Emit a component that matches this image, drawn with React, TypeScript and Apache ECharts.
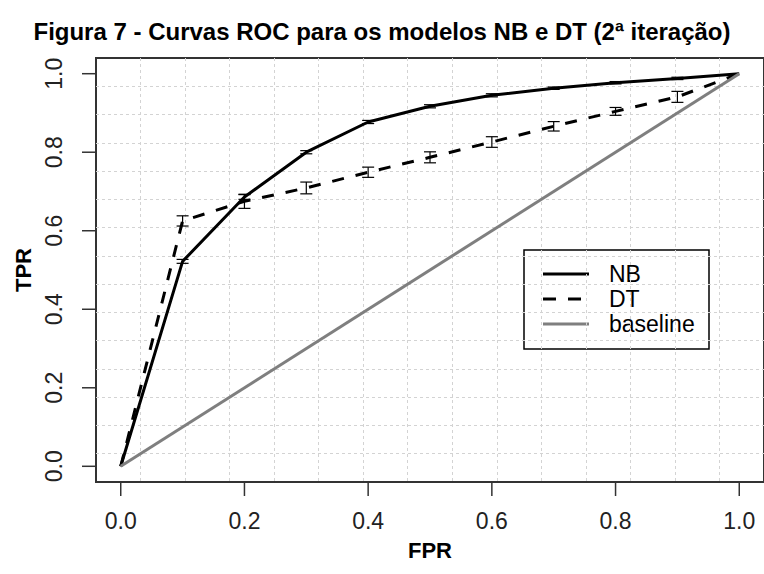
import React, { useEffect, useRef } from "react";
import * as echarts from "echarts";

const fpr = [0, 0.1, 0.2, 0.3, 0.4, 0.5, 0.6, 0.7, 0.8, 0.9, 1.0];
const nbTpr = [0, 0.522, 0.686, 0.8, 0.877, 0.917, 0.945, 0.963, 0.977, 0.988, 1.0];
const nbErr = [0, 0.005, 0.006, 0.004, 0.004, 0.004, 0.004, 0.003, 0.003, 0.003, 0];
const dtTpr = [0, 0.625, 0.675, 0.709, 0.749, 0.787, 0.826, 0.866, 0.904, 0.941, 1.0];
const dtErr = [0, 0.013, 0.018, 0.015, 0.013, 0.014, 0.0135, 0.012, 0.01, 0.014, 0];
const baseline = [[0, 0], [1, 1]];
const tickValues = [0, 0.2, 0.4, 0.6, 0.8, 1.0];
const legendNames = ["NB", "DT", "baseline"];
const titleText = "Figura 7 - Curvas ROC para os modelos NB e DT (2ª iteração)";
const AXIS_MIN = -0.04;
const AXIS_MAX = 1.04;

const FONT = "'Liberation Sans', Arial, sans-serif";

function errorSeries(name: string, ys: number[], errs: number[]) {
  const data = fpr
    .map((x, i) => [x, ys[i] - errs[i], ys[i] + errs[i]])
    .filter((d, i) => errs[i] > 0);
  return {
    name,
    type: "custom",
    xAxisIndex: 0,
    yAxisIndex: 0,
    encode: { x: 0, y: [1, 2] },
    data,
    z: 3,
    silent: true,
    renderItem: (params: any, api: any) => {
      const x = api.value(0);
      const lo = api.coord([x, api.value(1)]);
      const hi = api.coord([x, api.value(2)]);
      const hw = 6;
      const style = { stroke: "#000", lineWidth: 1.2, fill: "none" };
      return {
        type: "group",
        children: [
          { type: "line", shape: { x1: lo[0], y1: lo[1], x2: hi[0], y2: hi[1] }, style },
          { type: "line", shape: { x1: lo[0] - hw, y1: lo[1], x2: lo[0] + hw, y2: lo[1] }, style },
          { type: "line", shape: { x1: hi[0] - hw, y1: hi[1], x2: hi[0] + hw, y2: hi[1] }, style },
        ],
      };
    },
  };
}

function tickSeries() {
  // each row: [x, y, orientation] — 0 = x-axis tick, 1 = y-axis tick
  const data = [
    ...tickValues.map((v) => [v, AXIS_MIN, 0]),
    ...tickValues.map((v) => [AXIS_MIN, v, 1]),
  ];
  return {
    name: "axis ticks",
    type: "custom",
    xAxisIndex: 0,
    yAxisIndex: 0,
    encode: { x: 0, y: 1 },
    data,
    clip: false,
    silent: true,
    z: 6,
    renderItem: (params: any, api: any) => {
      const p = api.coord([api.value(0), api.value(1)]);
      const horiz = api.value(2) === 1;
      const len = 14;
      return {
        type: "line",
        shape: horiz
          ? { x1: p[0] - len, y1: p[1], x2: p[0], y2: p[1] }
          : { x1: p[0], y1: p[1], x2: p[0], y2: p[1] + len },
        style: { stroke: "#333", lineWidth: 1.5 },
      };
    },
  };
}

export default function App() {
  const ref = useRef<HTMLDivElement>(null);
  useEffect(() => {
    if (!ref.current) return;
    const chart = echarts.init(ref.current, undefined, { renderer: "svg" });
    const mainAxisCommon = {
      type: "value",
      min: AXIS_MIN,
      max: AXIS_MAX,
      axisLine: { show: false, onZero: false },
      axisTick: { show: false },
      splitLine: { show: false },
      nameTextStyle: { fontFamily: FONT, fontWeight: "bold", fontSize: 22, color: "#000" },
    };
    const gridAxisCommon = {
      type: "value",
      min: 0,
      max: 15,
      interval: 1,
      axisLine: { show: false, onZero: false },
      axisTick: { show: false },
      axisLabel: { show: false },
      splitLine: {
        show: true,
        showMinLine: false,
        showMaxLine: false,
        lineStyle: { color: "#d3d3d3", width: 1, type: [3, 3] },
      },
    };
    const legendStyles = [
      { stroke: "#000", lineWidth: 3 },
      { stroke: "#000", lineWidth: 3, lineDash: [13, 12] },
      { stroke: "#7f7f7f", lineWidth: 3 },
    ];
    const legendChildren: any[] = [
      {
        type: "rect",
        shape: { x: 524, y: 250, width: 185, height: 99 },
        style: { fill: "#fff", stroke: "#000", lineWidth: 1.5 },
      },
    ];
    legendNames.forEach((n, i) => {
      const y = 274 + i * 25;
      legendChildren.push({
        type: "line",
        shape: { x1: 543, y1: y, x2: 589, y2: y },
        style: legendStyles[i],
      });
      legendChildren.push({
        type: "text",
        x: 609,
        y,
        style: {
          text: n,
          fontFamily: FONT,
          fontSize: 23,
          fill: "#000",
          verticalAlign: "middle",
          align: "left",
        },
      });
    });
    chart.setOption({
      animation: false,
      backgroundColor: "#fff",
      title: {
        text: titleText,
        left: "center",
        top: 19,
        padding: 0,
        textStyle: { fontFamily: FONT, fontWeight: "bold", fontSize: 24, color: "#000" },
      },
      grid: {
        left: 96,
        top: 58,
        width: 669,
        height: 424,
        show: true,
        borderColor: "#333",
        borderWidth: 2,
        backgroundColor: "transparent",
      },
      graphic: [{ type: "group", z: 100, children: legendChildren }],
      xAxis: [
        {
          ...mainAxisCommon,
          position: "bottom",
          name: "FPR",
          nameLocation: "middle",
          nameGap: 57,
          axisLabel: {
            show: true,
            customValues: tickValues,
            margin: 27,
            fontFamily: FONT,
            fontSize: 23,
            color: "#222",
            formatter: (v: number) => v.toFixed(1),
          },
        },
        { ...gridAxisCommon, position: "top" },
      ],
      yAxis: [
        {
          ...mainAxisCommon,
          position: "left",
          name: "TPR",
          nameLocation: "middle",
          nameGap: 62,
          axisLabel: {
            show: true,
            customValues: tickValues,
            rotate: 90,
            margin: 31,
            fontFamily: FONT,
            fontSize: 23,
            color: "#222",
            formatter: (v: number) => v.toFixed(1),
          },
        },
        { ...gridAxisCommon, position: "right" },
      ],
      series: [
        {
          name: "NB",
          type: "line",
          xAxisIndex: 0,
          yAxisIndex: 0,
          data: fpr.map((x, i) => [x, nbTpr[i]]),
          symbol: "none",
          lineStyle: { color: "#000", width: 3, type: "solid" },
          itemStyle: { color: "#000" },
          z: 4,
        },
        {
          name: "DT",
          type: "line",
          xAxisIndex: 0,
          yAxisIndex: 0,
          data: fpr.map((x, i) => [x, dtTpr[i]]),
          symbol: "none",
          lineStyle: { color: "#000", width: 3, type: [12, 12] },
          itemStyle: { color: "#000" },
          z: 4,
        },
        {
          name: "baseline",
          type: "line",
          xAxisIndex: 0,
          yAxisIndex: 0,
          data: baseline,
          symbol: "none",
          lineStyle: { color: "#7f7f7f", width: 3 },
          itemStyle: { color: "#7f7f7f" },
          z: 5,
        },
        errorSeries("NB err", nbTpr, nbErr),
        errorSeries("DT err", dtTpr, dtErr),
        tickSeries(),
      ],
    });
    return () => chart.dispose();
  }, []);
  return (
    <div
      ref={ref}
      style={{ position: "absolute", left: 0, top: 0, width: 764, height: 574 }}
    />
  );
}
